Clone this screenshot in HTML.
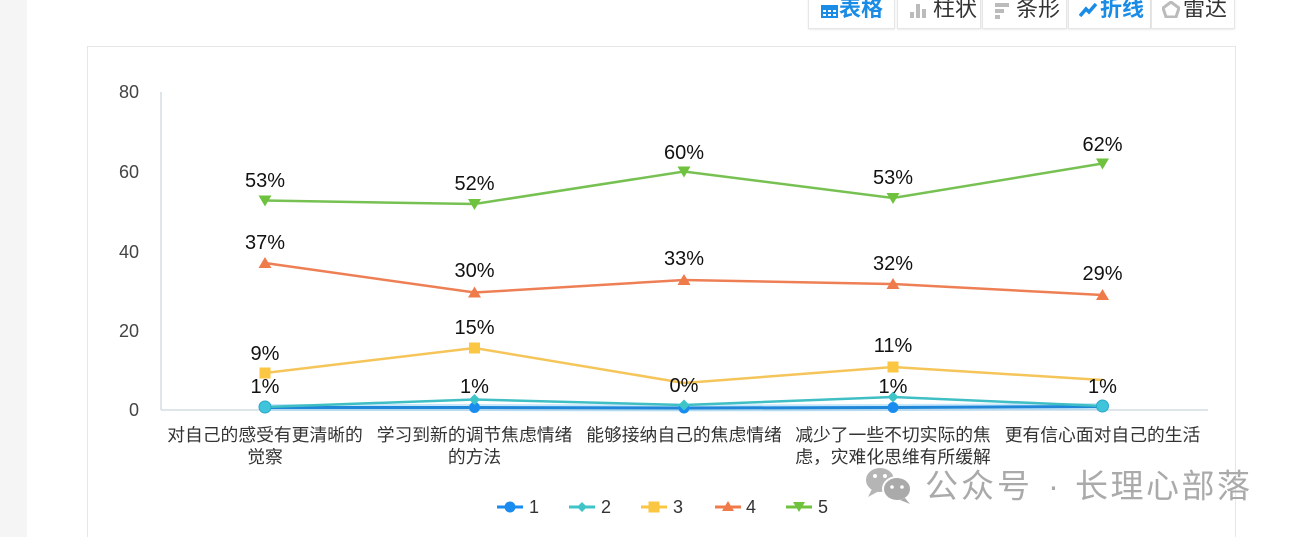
<!DOCTYPE html>
<html><head><meta charset="utf-8">
<style>
html,body{margin:0;padding:0;background:#fff;width:1296px;height:537px;overflow:hidden;}
body{position:relative;font-family:"Liberation Sans","Noto Sans CJK SC",sans-serif;}
.strip{position:absolute;left:0;top:0;width:27px;height:537px;background:#f5f5f5;}
.card{position:absolute;left:87px;top:46px;width:1147px;height:500px;border:1px solid #e6e6e6;border-bottom:none;background:#fff;}
.btn{position:absolute;top:-6px;height:34px;border:1px solid #e6e6e6;border-top:none;background:#fff;box-shadow:0 1px 2px rgba(0,0,0,0.08);font-size:22px;color:#333;line-height:30px;white-space:nowrap;}
.btn.on{color:#1a8ce6;font-weight:bold;}
</style></head><body>
<div class="strip"></div>
<div class="card"></div>

<div class="btn on" style="left:808px;width:85px;">
 <svg width="17" height="13" style="position:absolute;left:12px;top:11px" viewBox="0 0 17 13"><rect width="17" height="13" fill="#1a8ce6"/><g fill="#fff"><rect x="2" y="5" width="3" height="2"/><rect x="7" y="5" width="3" height="2"/><rect x="12" y="5" width="3" height="2"/><rect x="2" y="9" width="3" height="2"/><rect x="7" y="9" width="3" height="2"/><rect x="12" y="9" width="3" height="2"/></g></svg>
 <span style="position:absolute;left:30px;top:0px">表格</span></div>
<div class="btn" style="left:897px;width:82px;">
 <svg width="18" height="14" style="position:absolute;left:12px;top:10px" viewBox="0 0 18 14"><rect x="0" y="8" width="4" height="6" fill="#bbb"/><rect x="6" y="0" width="4" height="14" fill="#bbb"/><rect x="12" y="5" width="4" height="9" fill="#bbb"/></svg>
 <span style="position:absolute;left:35px;top:0px">柱状</span></div>
<div class="btn" style="left:982px;width:83px;">
 <svg width="14" height="16" style="position:absolute;left:12px;top:9px" viewBox="0 0 14 16"><rect x="0" y="0" width="14" height="4" fill="#bbb"/><rect x="0" y="6" width="9" height="4" fill="#bbb"/><rect x="0" y="12" width="5" height="4" fill="#bbb"/></svg>
 <span style="position:absolute;left:33px;top:0px">条形</span></div>
<div class="btn on" style="left:1068px;width:81px;">
 <svg width="18" height="14" style="position:absolute;left:10px;top:9px" viewBox="0 0 18 14"><polyline points="1,13 7,6 10,9 17,1" fill="none" stroke="#1a8ce6" stroke-width="3.5"/></svg>
 <span style="position:absolute;left:31px;top:0px">折线</span></div>
<div class="btn" style="left:1151px;width:82px;">
 <svg width="18" height="17" style="position:absolute;left:10px;top:7px" viewBox="0 0 18 17"><polygon points="9,1 17,7 14,16 4,16 1,7" fill="none" stroke="#bbb" stroke-width="3"/></svg>
 <span style="position:absolute;left:31px;top:0px">雷达</span></div>

<svg width="1296" height="537" style="position:absolute;left:0;top:0" xmlns="http://www.w3.org/2000/svg">
 <!-- axes -->
 <line x1="161" y1="92" x2="161" y2="410" stroke="#d3dde4" stroke-width="1.5"/>
 <line x1="161" y1="410" x2="1208" y2="410" stroke="#d3dde4" stroke-width="1.5"/>
 <g font-family="Liberation Sans, sans-serif" font-size="18" fill="#444" text-anchor="end" dominant-baseline="central">
  <text x="139" y="92">80</text>
  <text x="139" y="172">60</text>
  <text x="139" y="252">40</text>
  <text x="139" y="331">20</text>
  <text x="139" y="410">0</text>
 </g>
 <!-- category labels -->
 <g font-family="Liberation Sans, Noto Sans CJK SC, sans-serif" font-size="17.8" fill="#333" text-anchor="middle" dominant-baseline="central">
  <text x="265" y="435">对自己的感受有更清晰的</text>
  <text x="265" y="457">觉察</text>
  <text x="474.5" y="435">学习到新的调节焦虑情绪</text>
  <text x="474.5" y="457">的方法</text>
  <text x="684" y="435">能够接纳自己的焦虑情绪</text>
  <text x="893" y="435">减少了一些不切实际的焦</text>
  <text x="893" y="457">虑，灾难化思维有所缓解</text>
  <text x="1102.5" y="435">更有信心面对自己的生活</text>
 </g>

 <!-- series 1 blue -->
 <polyline points="265,407.5 474.5,407.5 684,408 893,407.5 1102.5,406.5" fill="none" stroke="#8fd0f5" stroke-opacity="0.5" stroke-width="7"/>
 <polyline points="265,407.5 474.5,407.5 684,408 893,407.5 1102.5,406.5" fill="none" stroke="#1f86d8" stroke-width="3"/>
 <g fill="#1a8cf0">
  <circle cx="474.5" cy="407.5" r="5.5"/><circle cx="684" cy="408" r="5.5"/><circle cx="893" cy="407.5" r="5.5"/>
 </g>
 <!-- series 2 teal -->
 <polyline points="265,407 474.5,399.5 684,405 893,397 1102.5,406" fill="none" stroke="#3fbfc4" stroke-width="2.5"/>
 <g fill="#3fc4c8">
  <polygon points="474.5,394 480,399.5 474.5,405 469,399.5"/>
  <polygon points="684,399.5 689.5,405 684,410.5 678.5,405"/>
  <polygon points="893,391.5 898.5,397 893,402.5 887.5,397"/>
 </g>
 <circle cx="265" cy="407" r="6" fill="#3fc4dc" stroke="#2aa8c8" stroke-width="1"/>
 <circle cx="1102.5" cy="406" r="6" fill="#3fc4dc" stroke="#2aa8c8" stroke-width="1"/>
 <!-- series 3 yellow -->
 <polyline points="265,373 474.5,348 684,383 893,367 1102.5,380" fill="none" stroke="#f5c55a" stroke-width="2.5"/>
 <g fill="#fbc743">
  <rect x="259.5" y="367.5" width="11" height="11"/><rect x="469" y="342.5" width="11" height="11"/><rect x="887.5" y="361.5" width="11" height="11"/>
 </g>
 <!-- series 4 orange -->
 <polyline points="265,263 474.5,292.5 684,280 893,284 1102.5,295" fill="none" stroke="#ee7f55" stroke-width="2.5"/>
 <g fill="#ef7b4b">
  <polygon points="265,257 271.5,268 258.5,268"/><polygon points="474.5,286.5 481,297.5 468,297.5"/>
  <polygon points="684,274 690.5,285 677.5,285"/><polygon points="893,278 899.5,289 886.5,289"/>
  <polygon points="1102.5,289 1109,300 1096,300"/>
 </g>
 <!-- series 5 green -->
 <polyline points="265,200.5 474.5,204 684,171.5 893,198 1102.5,163.5" fill="none" stroke="#76c152" stroke-width="2.5"/>
 <g fill="#6fc23e">
  <polygon points="258.5,195.5 271.5,195.5 265,206.5"/><polygon points="468,199 481,199 474.5,210"/>
  <polygon points="677.5,166.5 690.5,166.5 684,177.5"/><polygon points="886.5,193 899.5,193 893,204"/>
  <polygon points="1096,158.5 1109,158.5 1102.5,169.5"/>
 </g>

 <!-- data labels -->
 <g font-family="Liberation Sans, sans-serif" font-size="20" fill="#111" text-anchor="middle" dominant-baseline="central">
  <text x="265" y="181">53%</text><text x="474.5" y="184">52%</text><text x="684" y="153">60%</text><text x="893" y="178">53%</text><text x="1102.5" y="145">62%</text>
  <text x="265" y="243">37%</text><text x="474.5" y="271">30%</text><text x="684" y="259">33%</text><text x="893" y="264">32%</text><text x="1102.5" y="274">29%</text>
  <text x="265" y="354">9%</text><text x="474.5" y="328">15%</text><text x="893" y="346">11%</text>
  <text x="265" y="387">1%</text><text x="474.5" y="387">1%</text><text x="684" y="386">0%</text><text x="893" y="387">1%</text><text x="1102.5" y="387">1%</text>
 </g>

 <!-- legend -->
 <g stroke-width="3">
  <line x1="497" y1="507" x2="523" y2="507" stroke="#1a8cf0"/><circle cx="510" cy="507" r="5.5" fill="#1a8cf0"/>
  <line x1="569" y1="507" x2="595" y2="507" stroke="#3fc4c8"/><polygon points="582,502 587,507 582,512 577,507" fill="#3fc4c8"/>
  <line x1="641" y1="507" x2="667" y2="507" stroke="#fbc743"/><rect x="648.5" y="501.5" width="11" height="11" fill="#fbc743"/>
  <line x1="715" y1="507" x2="741" y2="507" stroke="#ef7b4b"/><polygon points="728,501 734,511 722,511" fill="#ef7b4b"/>
  <line x1="786" y1="507" x2="812" y2="507" stroke="#6fc23e"/><polygon points="793,502 805,502 799,512" fill="#6fc23e"/>
 </g>
 <g font-family="Liberation Sans, sans-serif" font-size="18" fill="#333" dominant-baseline="central">
  <text x="529" y="507">1</text><text x="601" y="507">2</text><text x="673" y="507">3</text><text x="746" y="507">4</text><text x="818" y="507">5</text>
 </g>

 <!-- watermark -->
 <g fill="#b5b5b5">
  <ellipse cx="880" cy="480" rx="14" ry="12"/>
  <polygon points="872,489 868,497 879,491"/>
  <ellipse cx="897" cy="489" rx="14" ry="12" fill="#aaa" stroke="#fff" stroke-width="2"/>
  <polygon points="905,498 910,504 900,500" fill="#aaa"/>
 </g>
 <g fill="#fff"><circle cx="875" cy="476" r="2"/><circle cx="885" cy="476" r="2"/><circle cx="892" cy="487" r="1.8"/><circle cx="902" cy="487" r="1.8"/></g>
 <g font-family="Liberation Sans, Noto Sans CJK SC, sans-serif" font-size="33" fill="#aaa" dominant-baseline="central">
  <text x="925" y="486" letter-spacing="3">公众号</text>
  <text x="1048" y="486">·</text>
  <text x="1075" y="486" letter-spacing="2.5">长理心部落</text>
 </g>
</svg>
</body></html>
